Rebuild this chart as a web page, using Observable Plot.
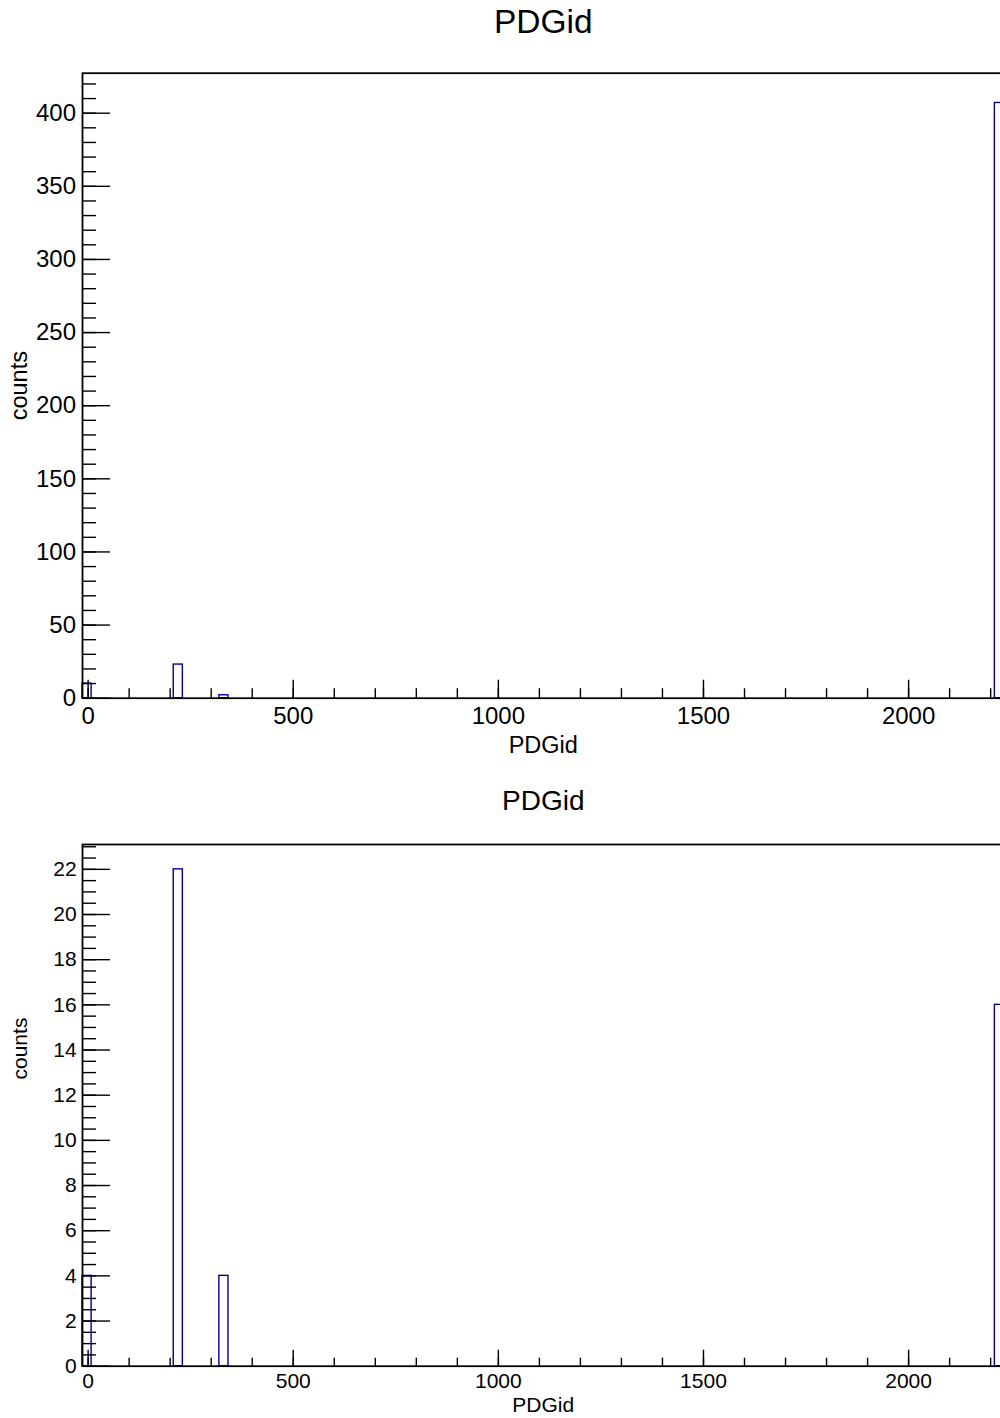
<!DOCTYPE html>
<html>
<head>
<meta charset="utf-8">
<script src="https://cdn.jsdelivr.net/npm/d3@7"></script>
<script src="https://cdn.jsdelivr.net/npm/@observablehq/plot@0.6"></script>
<style>
  html, body { margin: 0; padding: 0; background: white; overflow: hidden; }
  #wrap { position: relative; width: 1000px; height: 1418px; overflow: hidden; background: white; }
  #wrap svg { position: absolute; left: 0; max-width: none !important; }
</style>
</head>
<body>
<div id="wrap"></div>
<script>
// Histogram definition (ROOT-style TH1, 101 bins)
const binStart = -13.7;
const binWidth = 22.24;
const nBins = 101;

// Filled bins (index of bin) and their counts
const binIndex = [0, 10, 15, 100];          // bins holding ~0/11, 211, 321, 2212
const countsTop = [10, 23, 2, 407];          // upper panel
const countsBottom = [4, 22, 4, 16];         // lower panel

const xTickLabels = [0, 500, 1000, 1500, 2000];
const xMinor = d3.range(0, 2201, 100);
const yMajorTop = d3.range(0, 401, 50);
const yMinorTop = d3.range(0, 421, 10);
const yMajorBottom = d3.range(0, 23, 2);
const yMinorBottom = d3.range(0, 23.01, 0.5);

const titleText = "PDGid";
const xTitle = "PDGid";
const yTitle = "counts";

const font = "Liberation Sans, Arial, Helvetica, sans-serif";
const lineColor = "#000099";

function binsOf(counts) {
  return binIndex.map((b, i) => ({
    x1: binStart + b * binWidth,
    x2: binStart + (b + 1) * binWidth,
    count: counts[i]
  }));
}

function panel(cfg) {
  const data = binsOf(cfg.counts);
  const ymax = d3.max(cfg.counts) * 1.05;
  const W = 1010;
  const frameW = W - cfg.marginLeft - cfg.marginRight;
  const frameH = cfg.height - cfg.marginTop - cfg.marginBottom;
  const svg = Plot.plot({
    width: W,
    height: cfg.height,
    marginLeft: cfg.marginLeft,
    marginRight: cfg.marginRight,
    marginTop: cfg.marginTop,
    marginBottom: cfg.marginBottom,
    style: {fontFamily: font, fontSize: cfg.tickFont + "px", color: "black", background: "white", overflow: "visible", maxWidth: "none"},
    x: {domain: [binStart, binStart + nBins * binWidth]},
    y: {domain: [0, ymax]},
    marks: [
      Plot.rect(data, {x1: "x1", x2: "x2", y1: 0, y2: "count", fill: "white", stroke: lineColor, strokeWidth: 1.4}),
      Plot.frame({stroke: "black", strokeWidth: 1.8}),
      Plot.tickX(xMinor, {x: d => d, stroke: "black", strokeWidth: 1.4, insetTop: frameH - cfg.xMinorLen}),
      Plot.tickX(xTickLabels, {x: d => d, stroke: "black", strokeWidth: 1.4, insetTop: frameH - cfg.xMajorLen}),
      Plot.tickY(cfg.yMinor, {y: d => d, stroke: "black", strokeWidth: 1.4, insetRight: frameW - cfg.yMinorLen}),
      Plot.tickY(cfg.yMajor, {y: d => d, stroke: "black", strokeWidth: 1.4, insetRight: frameW - cfg.yMajorLen}),
      Plot.axisX({ticks: xTickLabels, tickSize: 0, tickPadding: cfg.xPad, label: null, tickFormat: d => String(d)}),
      Plot.axisY({ticks: cfg.yMajor, tickSize: 0, tickPadding: cfg.yPad, label: null, tickFormat: d => String(d)}),
      Plot.text([titleText], {text: d => d, frameAnchor: "top", dy: cfg.titleDy, lineAnchor: "bottom", textAnchor: "middle", fontSize: cfg.titleFont, fill: "black"}),
      Plot.text([xTitle], {text: d => d, frameAnchor: "bottom", dy: cfg.xTitleDy, lineAnchor: "bottom", textAnchor: "middle", fontSize: cfg.axisTitleFont, fill: "black"}),
      Plot.text([yTitle], {text: d => d, frameAnchor: "left", dx: cfg.yTitleDx, dy: cfg.yTitleDy, rotate: -90, lineAnchor: "bottom", textAnchor: "middle", fontSize: cfg.axisTitleFont, fill: "black"})
    ]
  });
  svg.style.top = cfg.top + "px";
  svg.style.maxWidth = "none";
  svg.style.width = W + "px";
  document.getElementById("wrap").appendChild(svg);
}

panel({
  top: 0, height: 760,
  marginLeft: 82, marginRight: 6.5, marginTop: 72.7, marginBottom: 62.3,
  counts: countsTop,
  yMajor: yMajorTop, yMinor: yMinorTop,
  xMajorLen: 18, xMinorLen: 9.5, yMajorLen: 28, yMinorLen: 14,
  tickFont: 24, xPad: 8.6, yPad: 6.5,
  titleFont: 33.5, titleDy: -39.7,
  axisTitleFont: 23.5, xTitleDy: 54.3, yTitleDx: -56, yTitleDy: 0
});

panel({
  top: 760, height: 658,
  marginLeft: 82, marginRight: 6.5, marginTop: 84, marginBottom: 52.3,
  counts: countsBottom,
  yMajor: yMajorBottom, yMinor: yMinorBottom,
  xMajorLen: 16, xMinorLen: 8, yMajorLen: 28, yMinorLen: 14,
  tickFont: 21, xPad: 6.8, yPad: 5.8,
  titleFont: 28, titleDy: -35,
  axisTitleFont: 21, xTitleDy: 45.3, yTitleDx: -56, yTitleDy: -56.8
});
</script>
</body>
</html>
